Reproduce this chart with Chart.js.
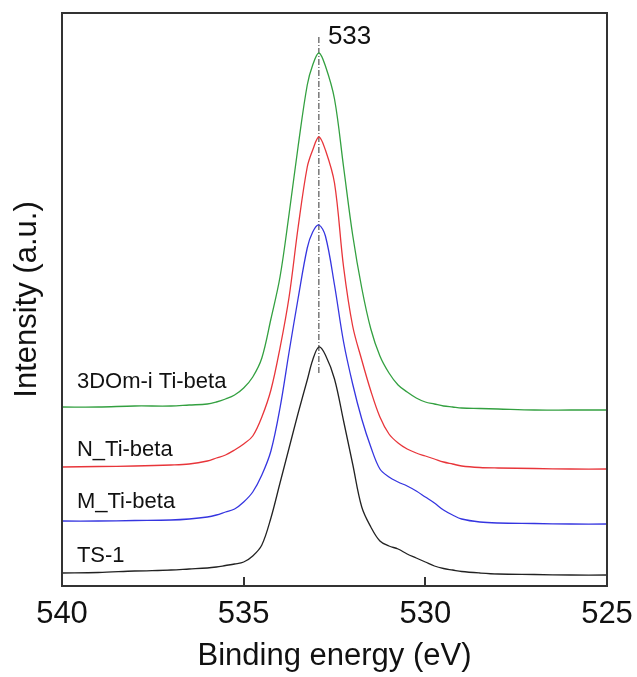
<!DOCTYPE html>
<html>
<head>
<meta charset="utf-8">
<title>O 1s XPS</title>
<script src="https://cdn.jsdelivr.net/npm/chart.js@4.4.1/dist/chart.umd.min.js"></script>
<style>
  html, body { margin: 0; padding: 0; background: #fff; }
  canvas { display: block; }
</style>
</head>
<body>
<canvas id="xps" width="637" height="677"></canvas>
<script>
// binding energy grid (eV), shared by all spectra
var energy = [540, 539, 538, 537, 536.5, 536, 535.75, 535.5, 535.25, 535,
  534.75, 534.5, 534.25, 534, 533.75, 533.5, 533.25, 533.1, 532.93, 532.75,
  532.5, 532.25, 532, 531.75, 531.5, 531.25, 531, 530.75, 530.5, 530.25,
  530, 529.75, 529.5, 529.25, 529, 528.5, 528, 527, 526, 525];

// stacked intensities (a.u.), offset per sample
var ti3DOm = [1790, 1790, 1800, 1800, 1810, 1820, 1840, 1870, 1910, 1980,
  2090, 2280, 2670, 3090, 3720, 4400, 5010, 5210, 5330, 5200,
  4870, 4190, 3510, 2980, 2570, 2300, 2130, 2010, 1940, 1880,
  1840, 1820, 1800, 1790, 1780, 1775, 1770, 1760, 1760, 1760];
var tiN = [1190, 1195, 1200, 1210, 1220, 1250, 1280, 1310, 1360, 1420,
  1500, 1690, 1960, 2380, 2890, 3590, 4190, 4360, 4490, 4360,
  4030, 3190, 2600, 2260, 1950, 1690, 1520, 1430, 1370, 1330,
  1300, 1270, 1240, 1220, 1200, 1185, 1180, 1175, 1170, 1170];
var tiM = [650, 650, 655, 660, 670, 690, 710, 740, 770, 840,
  940, 1110, 1350, 1780, 2340, 2880, 3380, 3540, 3610, 3500,
  3010, 2440, 2020, 1670, 1390, 1170, 1090, 1040, 1000, 950,
  890, 830, 760, 710, 670, 640, 630, 625, 620, 620];
var ts1 = [130, 135, 150, 160, 170, 180, 190, 205, 220, 240,
  300, 410, 680, 1030, 1380, 1730, 2060, 2260, 2390, 2310,
  2070, 1650, 1220, 790, 590, 450, 400, 370, 320, 280,
  240, 200, 175, 160, 145, 130, 120, 115, 110, 110];

var xTicks = [540, 535, 530, 525];
var sampleNames = ['3DOm-i Ti-beta', 'N_Ti-beta', 'M_Ti-beta', 'TS-1'];
var nameLevels = [2040, 1360, 840, 300];   // where each name sits, same units as the spectra

// peak marker
var peakEnergy = 532.93;
var peakLine = [5490, 2110];
var peakLabel = '533';

var FONT = "'Liberation Sans', Arial, Helvetica, sans-serif";

function toPoints(ys) {
  return energy.map(function(e, i) { return { x: e, y: ys[i] }; });
}

function spectrum(label, ys, color) {
  return {
    label: label,
    data: toPoints(ys),
    showLine: true,
    borderColor: color,
    borderWidth: 1.3,
    pointRadius: 0,
    tension: 0.35,
    fill: false
  };
}

// frame, inward ticks and text labels
var decorations = {
  id: 'decorations',
  afterDatasetsDraw: function(chart) {
    var ctx = chart.ctx;
    var area = chart.chartArea;
    var xs = chart.scales.x, ys = chart.scales.y;
    ctx.save();

    ctx.strokeStyle = '#333';
    ctx.lineWidth = 2;
    ctx.strokeRect(area.left, area.top, area.right - area.left, area.bottom - area.top);

    xTicks.forEach(function(t) {
      if (t === xs.min || t === xs.max) return;
      var px = Math.round(xs.getPixelForValue(t));
      ctx.beginPath();
      ctx.moveTo(px, area.bottom);
      ctx.lineTo(px, area.bottom - 9);
      ctx.stroke();
    });

    ctx.fillStyle = '#111';
    ctx.textBaseline = 'middle';
    ctx.textAlign = 'left';
    ctx.font = '22px ' + FONT;
    var nx = xs.getPixelForValue(539.59);
    sampleNames.forEach(function(name, i) {
      ctx.fillText(name, nx, ys.getPixelForValue(nameLevels[i]));
    });

    ctx.font = '26px ' + FONT;
    ctx.fillText(peakLabel, xs.getPixelForValue(peakEnergy) + 9, ys.getPixelForValue(peakLine[0]));
    ctx.restore();
  }
};

var chart = new Chart(document.getElementById('xps'), {
  type: 'scatter',
  data: {
    datasets: [
      spectrum(sampleNames[0], ti3DOm, '#33a040'),
      spectrum(sampleNames[1], tiN, '#e8353a'),
      spectrum(sampleNames[2], tiM, '#3535e0'),
      spectrum(sampleNames[3], ts1, '#222222'),
      {
        label: 'peak',
        data: peakLine.map(function(v) { return { x: peakEnergy, y: v }; }),
        showLine: true,
        borderColor: '#333',
        borderWidth: 1,
        borderDash: [6, 2, 1, 2],
        pointRadius: 0
      }
    ]
  },
  options: {
    responsive: false,
    animation: false,
    layout: { padding: { top: 13, right: 30, left: 0, bottom: 0 } },
    plugins: { legend: { display: false }, tooltip: { enabled: false } },
    scales: {
      x: {
        type: 'linear',
        reverse: true,
        min: 525,
        max: 540,
        afterFit: function(scale) {
          // fixed axis band; the end labels may hang past the frame
          scale.height = 91;
          scale.paddingLeft = 0;
          scale.paddingRight = 0;
        },
        afterBuildTicks: function(scale) {
          scale.ticks = xTicks.map(function(v) { return { value: v }; });
        },
        grid: { display: false, drawTicks: false },
        border: { display: false },
        ticks: {
          padding: 10,
          color: '#111',
          font: { family: FONT, size: 31, lineHeight: 1.2 }
        },
        title: {
          display: true,
          text: 'Binding energy (eV)',
          color: '#111',
          padding: { top: 0, bottom: 2 },
          font: { family: FONT, size: 31, lineHeight: 1.2 }
        }
      },
      y: {
        min: 0,
        max: 5730,
        afterFit: function(scale) { scale.width = 62; },
        grid: { display: false, drawTicks: false },
        border: { display: false },
        ticks: { display: false },
        title: {
          display: true,
          text: 'Intensity (a.u.)',
          color: '#111',
          padding: { top: 9, bottom: 0 },
          font: { family: FONT, size: 31, lineHeight: 1.2 }
        }
      }
    }
  },
  plugins: [decorations]
});
</script>
</body>
</html>
